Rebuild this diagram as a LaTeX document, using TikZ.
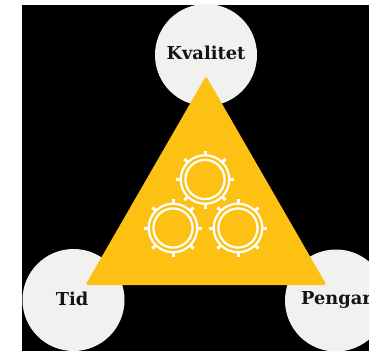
\documentclass[tikz,border=0pt]{standalone}
\usepackage{fontspec}
\setmainfont{DejaVu Serif}
\usetikzlibrary{calc}
\definecolor{amber}{HTML}{FDC113}
\definecolor{disc}{HTML}{F1F1F0}
\tikzset{
  px/.style={x=1pt,y=-1pt},
  topic/.style={circle,fill=disc,minimum size=102pt,inner sep=0pt},
  topiclabel/.style={text=black!92,inner sep=0pt,font=\bfseries\fontsize{17.8}{20}\selectfont},
  gearring/.style={draw=white,line width=2.2pt},
  geartooth/.style={draw=white,line width=3pt}
}
\newcommand{\gearat}[2]{%
  \draw[gearring] (#1,#2) circle[radius=24.3pt];
  \draw[gearring] (#1,#2) circle[radius=19.6pt];
  \foreach \a in {0,45,...,315}{
    \draw[geartooth] ($(#1,#2)+(\a:24pt)$) -- ($(#1,#2)+(\a:29pt)$);
  }%
}
\begin{document}
\begin{tikzpicture}[px]
\useasboundingbox (0,0) rectangle (369,351);
\clip (0,0) rectangle (369,351);
\fill[white] (0,0) rectangle (369,351);
\fill[black] (22,5) rectangle (369,351);
\node[topic] (kvalitet) at (206,55) {};
\node[topic] (tid) at (73.5,300) {};
\node[topic] (pengar) at (336,300.5) {};
\node[topiclabel] (kvalitetlabel) at (206,53) {Kvalitet};
\node[topiclabel] (tidlabel) at (72,299) {Tid};
\node[topiclabel] (pengarlabel) at (336.5,299.5) {Pengar};
\fill[amber,rounded corners=2.5pt] (206,76) -- (326.5,285) -- (85.5,285) -- cycle;
\gearat{205}{179.5}
\gearat{173}{228}
\gearat{238}{228}
\end{tikzpicture}
\end{document}
